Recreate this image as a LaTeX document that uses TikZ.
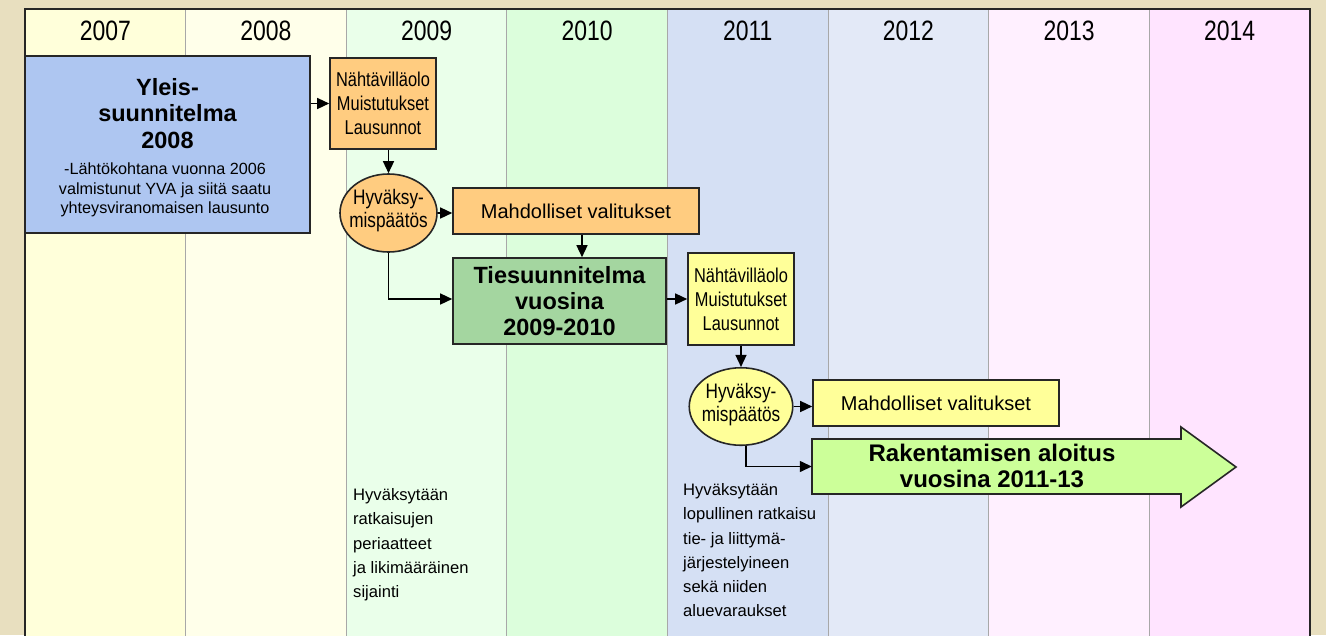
\documentclass[tikz,border=0pt]{standalone}
\usepackage{fontspec}
\setmainfont{Liberation Sans}
\newfontfamily\narrowfont{Liberation Sans}[FakeStretch=0.82]
\usetikzlibrary{shapes.geometric,arrows.meta,calc}
\definecolor{bgtan}{HTML}{E8DFBF}
\definecolor{cA}{HTML}{FFFFDA}
\definecolor{cB}{HTML}{FFFFEA}
\definecolor{cC}{HTML}{EAFFEA}
\definecolor{cD}{HTML}{DCFEDC}
\definecolor{cE}{HTML}{D5E0F4}
\definecolor{cF}{HTML}{E3E9F7}
\definecolor{cG}{HTML}{FFF0FF}
\definecolor{cH}{HTML}{FFE4FF}
\definecolor{yleisblue}{HTML}{AEC6F1}
\definecolor{orangebox}{HTML}{FFCC80}
\definecolor{tiegreen}{HTML}{A4D6A0}
\definecolor{yellowbox}{HTML}{FFFF99}
\definecolor{arrowgreen}{HTML}{CCFF99}
\definecolor{boxdark}{HTML}{262626}
\definecolor{divgray}{HTML}{A8A8A8}
\begin{document}
\begin{tikzpicture}[x=1pt,y=-1pt,
  box/.style={draw=boxdark, line width=1.6pt, inner sep=0pt, align=center},
  ellbox/.style={ellipse, draw=boxdark, line width=1.6pt, inner sep=0pt},
  conn/.style={line width=1.4pt, draw=black, -{Triangle[length=12pt,width=11pt]}},
  year/.style={inner sep=0pt, font=\narrowfont\fontsize{28}{30}\selectfont},
  narrowtxt/.style={font=\narrowfont\fontsize{20}{24}\selectfont},
  elltxt/.style={inner sep=0pt, align=center, font=\narrowfont\fontsize{21}{23}\selectfont},
  boldtxt/.style={font=\bfseries\fontsize{23.5}{26.3}\selectfont},
  plaintxt/.style={inner sep=0pt, align=left, font=\fontsize{16.6}{24.4}\selectfont}
]
\useasboundingbox (0,0) rectangle (1326,635);
\fill[bgtan] (0,0) rectangle (1326,635);
\foreach \c [count=\i from 0] in {cA,cB,cC,cD,cE,cF,cG,cH}
  \fill[\c] ({25+160.625*\i},9) rectangle ({25+160.625*(\i+1)},645);
\foreach \i in {1,...,7}
  \draw[divgray, line width=1pt] ({25+160.625*\i},9) -- ({25+160.625*\i},645);
\draw[boxdark, line width=1.8pt] (25,645) -- (25,9) -- (1310,9) -- (1310,645);
\foreach \y [count=\i from 0] in {2007,2008,2009,2010,2011,2012,2013,2014}
  \node[year] (y\y) at ({25+160.625*(\i+0.5)},31) {\y};

% Yleissuunnitelma
\node[box, fill=yleisblue, minimum width=285pt, minimum height=177pt] (yleis) at (167.5,144.5) {};
\node[inner sep=0pt, align=center, font=\bfseries\fontsize{23.5}{26.7}\selectfont] (yleisT) at (167.5,113.5) {Yleis-\\suunnitelma\\2008};
\node[inner sep=0pt, align=center, font=\fontsize{16.2}{19.6}\selectfont] (yleisD) at (165,190) {-Lähtökohtana vuonna 2006\\valmistunut YVA ja siitä saatu\\yhteysviranomaisen lausunto};

% first round
\node[box, narrowtxt, fill=orangebox, minimum width=106pt, minimum height=91pt] (nah1) at (383,103.5) {Nähtävilläolo\\Muistutukset\\Lausunnot};
\node[ellbox, fill=orangebox, minimum width=97pt, minimum height=78pt] (ell1) at (388.5,213) {};
\node[elltxt] (ell1t) at (388.5,211) {Hyväksy-\\mispäätös};
\node[box, fill=orangebox, minimum width=246pt, minimum height=46pt, font=\fontsize{20}{24}\selectfont] (mah1) at (576,211) {Mahdolliset valitukset};
\node[box, boldtxt, fill=tiegreen, minimum width=213pt, minimum height=86pt] (ties) at (559.5,301) {Tiesuunnitelma\\vuosina\\2009-2010};

% second round
\node[box, narrowtxt, fill=yellowbox, minimum width=106pt, minimum height=92pt] (nah2) at (741,299) {Nähtävilläolo\\Muistutukset\\Lausunnot};
\node[ellbox, fill=yellowbox, minimum width=103.5pt, minimum height=77.5pt] (ell2) at (741,406.5) {};
\node[elltxt] (ell2t) at (741,405) {Hyväksy-\\mispäätös};
\node[box, fill=yellowbox, minimum width=246pt, minimum height=46pt, font=\fontsize{20}{24}\selectfont] (mah2) at (936,403) {Mahdolliset valitukset};

% big arrow
\draw[boxdark, line width=1.6pt, fill=arrowgreen, line join=miter] (812,439) -- (1181,439) -- (1181,427) -- (1236,467) -- (1181,507) -- (1181,494) -- (812,494) -- cycle;
\node[inner sep=0pt, minimum width=369pt, minimum height=55pt] (rak) at (996.5,466.5) {};
\node[inner sep=0pt, align=center, font=\bfseries\fontsize{24}{25.5}\selectfont] (rakt) at (992,466) {Rakentamisen aloitus\\vuosina 2011-13};

% notes
\node[plaintxt, anchor=north west] (note1) at (353,488) {Hyväksytään\\ratkaisujen\\periaatteet\\ja likimääräinen\\sijainti};
\node[plaintxt, anchor=north west, font=\fontsize{16.6}{24.2}\selectfont] (note2) at (683,483.5) {Hyväksytään\\lopullinen ratkaisu\\tie- ja liittymä-\\järjestelyineen\\sekä niiden\\aluevaraukset};

% connectors
\draw[conn] (yleis.east |- nah1.west) -- (nah1.west);
\draw[conn] (nah1.south -| ell1.north) -- (ell1.north);
\draw[conn] (ell1.east) -- (ell1.east -| mah1.west);
\draw[conn] ([xshift=6pt]mah1.south) -- ([xshift=6pt]mah1.south |- ties.north);
\draw[conn] (ell1.south) |- ([yshift=2pt]ties.west);
\draw[conn] (ties.east |- nah2.west) -- (nah2.west);
\draw[conn] (nah2.south -| ell2.north) -- (ell2.north);
\draw[conn] (ell2.east) -- (ell2.east -| mah2.west);
\draw[conn] ([xshift=5pt]ell2.south) |- (rak.west);
\end{tikzpicture}
\end{document}
